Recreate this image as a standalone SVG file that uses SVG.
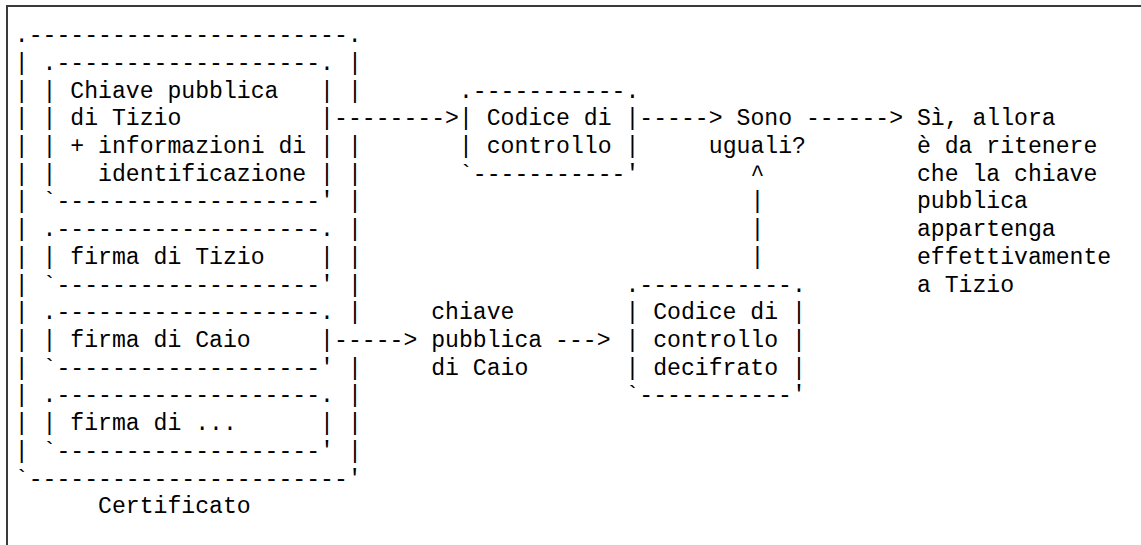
<svg xmlns="http://www.w3.org/2000/svg" width="1141" height="545" viewBox="0 0 1141 545" xml:space="preserve">
<style>
text{font-family:"Liberation Mono","DejaVu Sans Mono",monospace;font-size:23.13px;fill:#000;white-space:pre}
.frame{stroke:#3a3a3a;stroke-width:2;fill:none}
</style>
<rect x="0" y="0" width="1141" height="545" fill="#fff"/>
<g id="frame"><path class="frame" d="M7 545V6H1141"/></g>
<g id="certificato">
<text x="14.76" y="42.1">.-----------------------.</text>
<text x="14.76" y="69.82">|</text><text x="347.88" y="69.82">|</text>
<text x="14.76" y="97.54">|</text><text x="347.88" y="97.54">|</text>
<text x="14.76" y="125.26">|</text>
<text x="14.76" y="152.98">|</text><text x="347.88" y="152.98">|</text>
<text x="14.76" y="180.7">|</text><text x="347.88" y="180.7">|</text>
<text x="14.76" y="208.42">|</text><text x="347.88" y="208.42">|</text>
<text x="14.76" y="236.14">|</text><text x="347.88" y="236.14">|</text>
<text x="14.76" y="263.86">|</text><text x="347.88" y="263.86">|</text>
<text x="14.76" y="291.58">|</text><text x="347.88" y="291.58">|</text>
<text x="14.76" y="319.3">|</text><text x="347.88" y="319.3">|</text>
<text x="14.76" y="347.02">|</text>
<text x="14.76" y="374.74">|</text><text x="347.88" y="374.74">|</text>
<text x="14.76" y="402.46">|</text><text x="347.88" y="402.46">|</text>
<text x="14.76" y="430.18">|</text><text x="347.88" y="430.18">|</text>
<text x="14.76" y="457.9">|</text><text x="347.88" y="457.9">|</text>
<text x="14.76" y="485.62">`-----------------------'</text>
<text x="98.04" y="513.34">Certificato</text>
</g>
<g id="chiave-pubblica-tizio">
<text x="42.52" y="69.82">.-------------------.</text>
<text x="42.52" y="97.54">| Chiave pubblica   |</text>
<text x="42.52" y="125.26">| di Tizio          |</text>
<text x="42.52" y="152.98">| + informazioni di |</text>
<text x="42.52" y="180.7">|   identificazione |</text>
<text x="42.52" y="208.42">`-------------------'</text>
</g>
<g id="firma-tizio">
<text x="42.52" y="236.14">.-------------------.</text>
<text x="42.52" y="263.86">| firma di Tizio    |</text>
<text x="42.52" y="291.58">`-------------------'</text>
</g>
<g id="firma-caio">
<text x="42.52" y="319.3">.-------------------.</text>
<text x="42.52" y="347.02">| firma di Caio     |</text>
<text x="42.52" y="374.74">`-------------------'</text>
</g>
<g id="firma-altri">
<text x="42.52" y="402.46">.-------------------.</text>
<text x="42.52" y="430.18">| firma di ...      |</text>
<text x="42.52" y="457.9">`-------------------'</text>
</g>
<g id="codice-controllo">
<text x="458.92" y="97.54">.-----------.</text>
<text x="458.92" y="125.26">| Codice di |</text>
<text x="458.92" y="152.98">| controllo |</text>
<text x="458.92" y="180.7">`-----------'</text>
</g>
<g id="sono-uguali">
<text x="736.52" y="125.26">Sono</text>
<text x="708.76" y="152.98">uguali?</text>
</g>
<g id="conclusione">
<text x="916.96" y="125.26">Sì, allora</text>
<text x="916.96" y="152.98">è da ritenere</text>
<text x="916.96" y="180.7">che la chiave</text>
<text x="916.96" y="208.42">pubblica</text>
<text x="916.96" y="236.14">appartenga</text>
<text x="916.96" y="263.86">effettivamente</text>
<text x="916.96" y="291.58">a Tizio</text>
</g>
<g id="chiave-pubblica-caio">
<text x="431.16" y="319.3">chiave</text>
<text x="431.16" y="347.02">pubblica</text>
<text x="431.16" y="374.74">di Caio</text>
</g>
<g id="codice-decifrato">
<text x="625.48" y="291.58">.-----------.</text>
<text x="625.48" y="319.3">| Codice di |</text>
<text x="625.48" y="347.02">| controllo |</text>
<text x="625.48" y="374.74">| decifrato |</text>
<text x="625.48" y="402.46">`-----------'</text>
</g>
<g id="connectors">
<text x="334" y="125.26">--------&gt;</text>
<text x="639.36" y="125.26">-----&gt;</text>
<text x="805.92" y="125.26">------&gt;</text>
<text x="334" y="347.02">-----&gt;</text>
<text x="555.08" y="347.02">---&gt;</text>
<text x="750.4" y="180.7">^</text>
<text x="750.4" y="208.42">|</text>
<text x="750.4" y="236.14">|</text>
<text x="750.4" y="263.86">|</text>
</g>
</svg>
